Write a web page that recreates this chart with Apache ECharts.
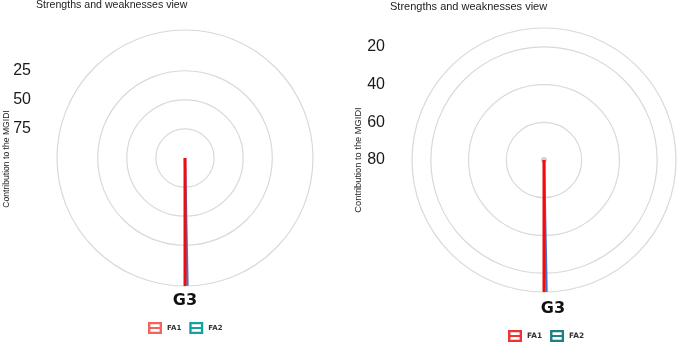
<!DOCTYPE html>
<html>
<head>
<meta charset="utf-8">
<script src="https://cdn.jsdelivr.net/npm/echarts@6/dist/echarts.min.js"></script>
<style>
  html, body { margin: 0; padding: 0; background: #ffffff; }
  #chart { width: 685px; height: 346px; }
</style>
</head>
<body>
<div id="chart"></div>
<script>
// ---------------- data ----------------
const categories = ['G3'];
const seriesNames = ['FA1', 'FA2'];
const titleText = 'Strengths and weaknesses view';
const axisTitle = 'Contribution to the MGIDI';

// left panel
const leftRange = [-10, 100];          // rim value, centre value
const leftTickLabels = [25, 50, 75];
const leftFA1Radius = [100, -10];
const leftFA1Angle = [180, 180];
const leftFA2Radius = [100, -10];
const leftFA2Angle = [180, 178.9];

// right panel
const rightRange = [10, 80];
const rightTickLabels = [20, 40, 60, 80];
const rightFA1Radius = [80, 10];
const rightFA1Angle = [180, 180];
const rightFA2Radius = [80, 10];
const rightFA2Angle = [180, 178.9];
const rightCentreRadius = [80];
const rightCentreAngle = [180];

// ---------------- styling ----------------
const GRID = '#d9d9d9';
const LINE1 = '#f20c0c';
const LINE2 = '#4a72cc';
const ICON = 'path://M0,0 L14,0 L14,12 L0,12 Z M2.4,2.3 L2.4,5 L11.6,5 L11.6,2.3 Z M2.4,7 L2.4,9.7 L11.6,9.7 L11.6,7 Z';

function zip(r, a) { return r.map((v, i) => [v, a[i]]); }
function ringColors(range, step, ticks) {
  const out = [];
  for (let v = range[0]; v <= range[1] + 1e-9; v += step) {
    const vv = Math.round(v * 1000) / 1000;
    out.push((vv === range[0] || ticks.includes(vv)) ? GRID : 'rgba(0,0,0,0)');
  }
  return out;
}

const panels = [
  { center: [185, 158], r: 128, range: leftRange, step: 5, ticks: leftTickLabels,
    gridLeft: 36, labelMargin: 5, gLabelMargin: 7, gLabelPad: 0, gFont: 16 },
  { center: [544, 160], r: 132, range: rightRange, step: 10, ticks: rightTickLabels,
    gridLeft: 390, labelMargin: 5, gLabelMargin: 9, gLabelPad: 18, gFont: 16 }
];

const polar = [], angleAxis = [], radiusAxis = [], grid = [], xAxis = [], yAxis = [];
panels.forEach((p, i) => {
  // polar used for grid rings + category label
  polar.push({ center: p.center, radius: [0, p.r] });
  angleAxis.push({
    polarIndex: 2 * i, type: 'category', data: categories, startAngle: 90, clockwise: true,
    axisLine: { show: false }, axisTick: { show: false }, splitLine: { show: false },
    axisLabel: { show: true, margin: p.gLabelMargin, padding: [0, 0, 0, p.gLabelPad],
      fontFamily: 'DejaVu Sans', fontWeight: 'bold', fontSize: p.gFont, color: '#111' }
  });
  radiusAxis.push({
    polarIndex: 2 * i, type: 'value', min: p.range[0], max: p.range[1], interval: p.step, inverse: true,
    axisLine: { show: false }, axisTick: { show: false }, axisLabel: { show: false },
    splitLine: { show: true, lineStyle: { color: ringColors(p.range, p.step, p.ticks), width: 1.2 } }
  });
  // polar used for the data paths
  polar.push({ center: p.center, radius: [0, p.r] });
  angleAxis.push({
    polarIndex: 2 * i + 1, type: 'value', min: 0, max: 360, startAngle: 90, clockwise: true, show: false
  });
  radiusAxis.push({
    polarIndex: 2 * i + 1, type: 'value', min: p.range[0], max: p.range[1], inverse: true, show: false
  });
  // cartesian axis for the radial tick labels (left of panel)
  grid.push({ left: p.gridLeft, top: p.center[1] - p.r, width: 10, height: p.r });
  xAxis.push({ gridIndex: i, type: 'value', show: false, min: 0, max: 1 });
  yAxis.push({
    gridIndex: i, type: 'value', min: p.range[0], max: p.range[1], interval: p.step, inverse: true,
    axisLine: { show: false }, axisTick: { show: false }, splitLine: { show: false },
    axisLabel: { margin: p.labelMargin, fontFamily: 'Liberation Sans', fontSize: 16, color: '#1a1a1a',
      formatter: v => (p.ticks.includes(Math.round(v * 1000) / 1000) ? String(v) : '') }
  });
});

const series = [
  { name: seriesNames[1], type: 'line', coordinateSystem: 'polar', polarIndex: 1, data: zip(leftFA2Radius, leftFA2Angle),
    symbol: 'none', lineStyle: { color: LINE2, width: 2.4 }, itemStyle: { color: LINE2 }, z: 3, silent: true },
  { name: seriesNames[0], type: 'line', coordinateSystem: 'polar', polarIndex: 1, data: zip(leftFA1Radius, leftFA1Angle),
    symbol: 'none', lineStyle: { color: LINE1, width: 3 }, itemStyle: { color: LINE1 }, z: 4, silent: true },
  { name: 'centre', type: 'scatter', coordinateSystem: 'polar', polarIndex: 3, data: zip(rightCentreRadius, rightCentreAngle),
    symbolSize: 6, itemStyle: { color: '#c4c4c4' }, z: 2, silent: true },
  { name: seriesNames[1], type: 'line', coordinateSystem: 'polar', polarIndex: 3, data: zip(rightFA2Radius, rightFA2Angle),
    symbol: 'none', lineStyle: { color: LINE2, width: 2.4 }, itemStyle: { color: LINE2 }, z: 3, silent: true },
  { name: seriesNames[0], type: 'line', coordinateSystem: 'polar', polarIndex: 3, data: zip(rightFA1Radius, rightFA1Angle),
    symbol: 'none', lineStyle: { color: LINE1, width: 3 }, itemStyle: { color: LINE1 }, z: 4, silent: true }
];

const option = {
  animation: false,
  backgroundColor: '#ffffff',
  title: [
    { text: titleText, left: 36, top: 0, padding: 0,
      textStyle: { fontFamily: 'Liberation Sans', fontSize: 10.6, fontWeight: 'normal', color: '#222' } },
    { text: titleText, left: 390, top: 1, padding: 0,
      textStyle: { fontFamily: 'Liberation Sans', fontSize: 11, fontWeight: 'normal', color: '#222' } }
  ],
  polar, angleAxis, radiusAxis, grid, xAxis, yAxis,
  legend: [
    { left: 148, top: 322, padding: 0, itemWidth: 14, itemHeight: 12, itemGap: 8, icon: ICON, selectedMode: false,
      textStyle: { fontFamily: 'DejaVu Sans', fontSize: 7, fontWeight: 'bold', color: '#333' },
      data: [{ name: seriesNames[0], itemStyle: { color: '#f4645e', borderWidth: 0 } },
             { name: seriesNames[1], itemStyle: { color: '#17a2a2', borderWidth: 0 } }] },
    { left: 508, top: 330, padding: 0, itemWidth: 14, itemHeight: 14, itemGap: 8, icon: ICON, selectedMode: false,
      textStyle: { fontFamily: 'DejaVu Sans', fontSize: 7.4, fontWeight: 'bold', color: '#333' },
      data: [{ name: seriesNames[0], itemStyle: { color: '#ee3333', borderWidth: 0 } },
             { name: seriesNames[1], itemStyle: { color: '#1e8080', borderWidth: 0 } }] }
  ],
  graphic: [
    { type: 'text', x: 7, y: 159, rotation: Math.PI / 2,
      style: { text: axisTitle, fontFamily: 'Liberation Sans', fontSize: 8.6, fill: '#222', align: 'center', verticalAlign: 'middle' } },
    { type: 'text', x: 358, y: 160, rotation: Math.PI / 2,
      style: { text: axisTitle, fontFamily: 'Liberation Sans', fontSize: 9.3, fill: '#222', align: 'center', verticalAlign: 'middle' } }
  ],
  series
};

const chart = echarts.init(document.getElementById('chart'), null, { renderer: 'canvas' });
chart.setOption(option);
</script>
</body>
</html>
